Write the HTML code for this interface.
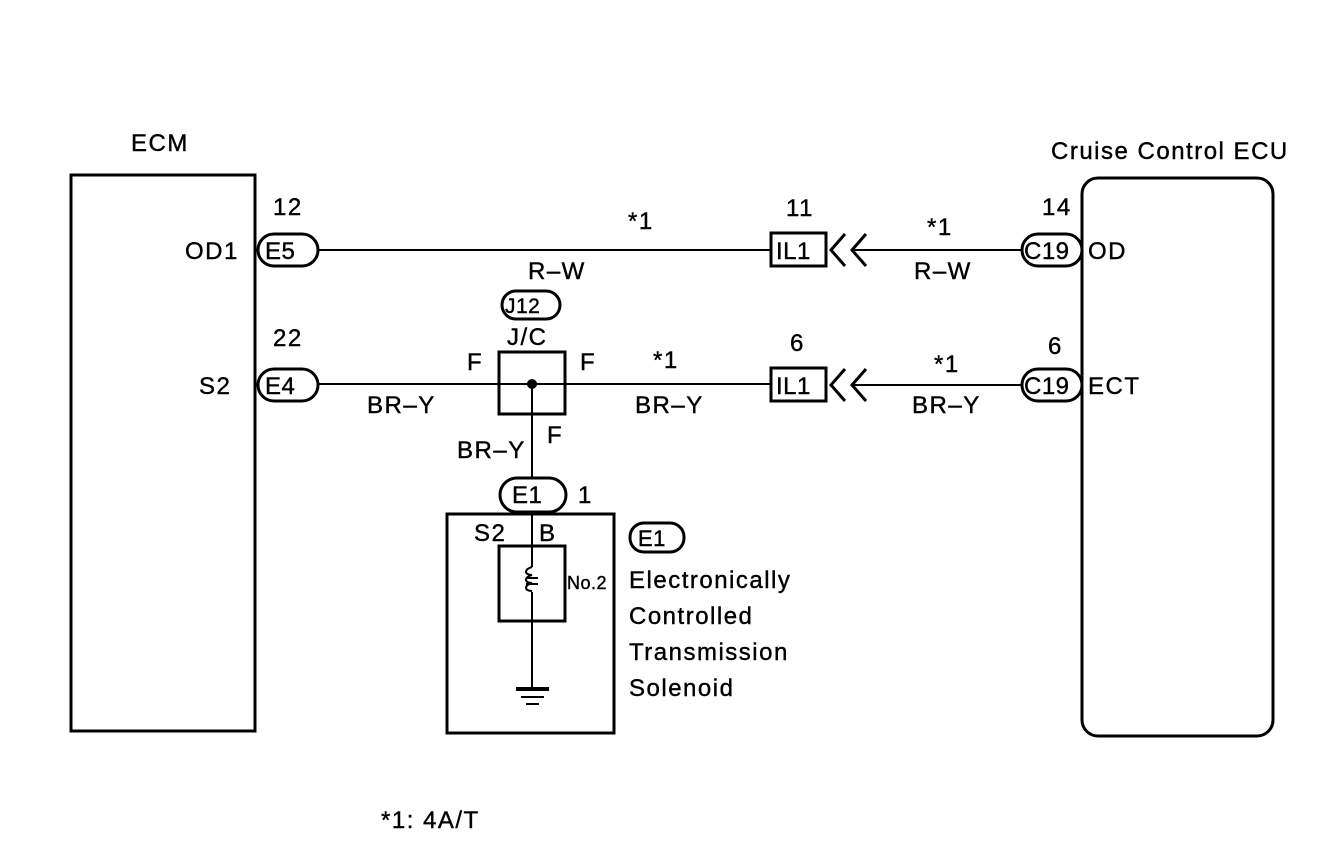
<!DOCTYPE html>
<html><head><meta charset="utf-8"><style>
html,body{margin:0;padding:0;background:#fff;}
svg{display:block;}
text{font-family:"Liberation Sans",sans-serif;font-size:24px;fill:#000;letter-spacing:1.5px;stroke:#000;stroke-width:0.4px;}
text.p{letter-spacing:0.5px;}
</style></head><body>
<svg width="1344" height="868" viewBox="0 0 1344 868" xmlns="http://www.w3.org/2000/svg">
<g fill="none" stroke="#000" stroke-width="3">
<rect x="71" y="175" width="184" height="556"/>
<rect x="1082" y="178" width="191" height="558" rx="16"/>
<rect x="258" y="234" width="60" height="32" rx="16"/>
<rect x="258" y="369" width="60" height="32" rx="16"/>
<rect x="1022" y="234" width="60" height="32" rx="16"/>
<rect x="1022" y="369" width="60" height="32" rx="16"/>
<rect x="502" y="291" width="58" height="28" rx="14"/>
<rect x="500" y="478" width="66" height="34" rx="17"/>
<rect x="630" y="523" width="54" height="29" rx="14"/>
<rect x="771" y="233" width="55" height="33"/>
<rect x="771" y="368" width="55" height="33"/>
<polyline points="845,234 831,250 845,266"/>
<polyline points="866,234 852,250 866,266"/>
<polyline points="845,369 831,385 845,401"/>
<polyline points="866,369 852,385 866,401"/>
<rect x="499" y="352" width="66" height="62"/>
<rect x="447" y="514" width="167" height="219"/>
<rect x="499" y="546" width="66" height="75"/>
</g>
<g stroke="#000" stroke-width="2" fill="none">
<line x1="318" y1="250" x2="771" y2="250"/>
<line x1="852" y1="250" x2="1022" y2="250"/>
<line x1="318" y1="384" x2="771" y2="384"/>
<line x1="852" y1="385" x2="1022" y2="385"/>
<line x1="532" y1="384" x2="532" y2="478"/>
<line x1="532" y1="512" x2="532" y2="567"/>
<path d="M532,567 c-8,2 -8,8 0,8 c-8,2 -8,8 0,8 c-8,2 -8,8 0,8"/>
<line x1="532" y1="592" x2="532" y2="688"/>
<line x1="526" y1="578" x2="538" y2="578"/>
<line x1="526" y1="584" x2="538" y2="584"/>
</g>
<circle cx="532" cy="384" r="5" fill="#000"/>
<g stroke="#000">
<line x1="516" y1="689" x2="549" y2="689" stroke-width="4"/>
<line x1="521" y1="697" x2="544" y2="697" stroke-width="2"/>
<line x1="526" y1="704" x2="539" y2="704" stroke-width="2"/>
</g>
<text x="131" y="151">ECM</text>
<text x="1051" y="159">Cruise Control ECU</text>
<text x="273" y="215">12</text>
<text x="185" y="259">OD1</text>
<text class="p" x="265" y="259">E5</text>
<text x="273" y="346">22</text>
<text x="199" y="394">S2</text>
<text class="p" x="265" y="394">E4</text>
<text x="628" y="229">*1</text>
<text x="528" y="279">R–W</text>
<text class="p" x="505" y="313" style="font-size:21px">J12</text>
<text x="507" y="345">J/C</text>
<text x="467" y="370">F</text>
<text x="580" y="370">F</text>
<text x="547" y="443">F</text>
<text x="367" y="413">BR–Y</text>
<text x="457" y="458">BR–Y</text>
<text x="653" y="368">*1</text>
<text x="635" y="413">BR–Y</text>
<text x="786" y="216">11</text>
<text x="790" y="351">6</text>
<text class="p" x="776" y="259">IL1</text>
<text class="p" x="776" y="394">IL1</text>
<text x="927" y="235">*1</text>
<text x="914" y="279">R–W</text>
<text x="934" y="372">*1</text>
<text x="912" y="413">BR–Y</text>
<text x="1042" y="215">14</text>
<text x="1048" y="354">6</text>
<text class="p" x="1024" y="259">C19</text>
<text class="p" x="1024" y="394">C19</text>
<text x="1088" y="259">OD</text>
<text x="1088" y="394">ECT</text>
<text class="p" x="512" y="503">E1</text>
<text x="578" y="503">1</text>
<text x="474" y="541">S2</text>
<text x="539" y="541">B</text>
<text class="p" x="567" y="589" style="font-size:18px">No.2</text>
<text class="p" x="638" y="546" style="font-size:22px">E1</text>
<text x="629" y="588">Electronically</text>
<text x="629" y="624">Controlled</text>
<text x="629" y="660">Transmission</text>
<text x="629" y="696">Solenoid</text>
<text x="381" y="828">*1: 4A/T</text>
</svg>
</body></html>
